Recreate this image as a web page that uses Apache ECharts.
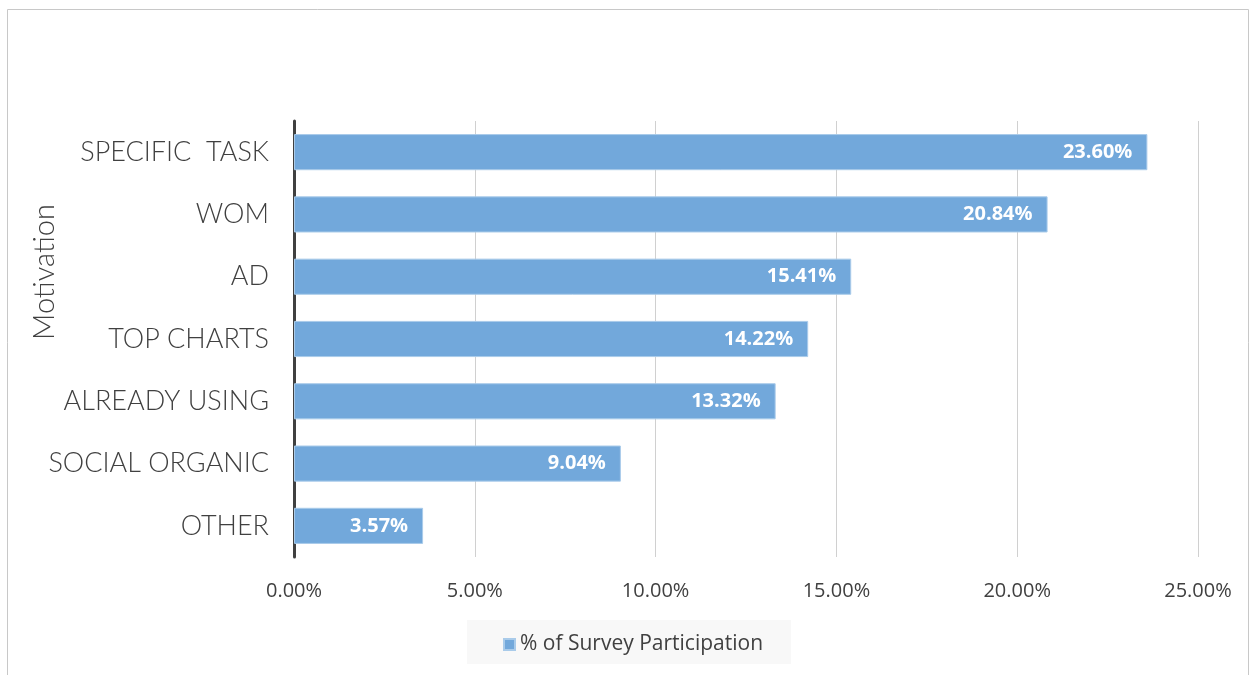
<!DOCTYPE html>
<html><head><meta charset="utf-8">
<script src="https://cdn.jsdelivr.net/npm/echarts@6/dist/echarts.min.js"></script>
<style>html,body{margin:0;padding:0;background:#fff}#c{width:1250px;height:675px}</style>
</head><body><div id="c"></div>
<script>
const categories = ['OTHER','SOCIAL ORGANIC','ALREADY USING','TOP CHARTS','AD','WOM','SPECIFIC  TASK'];
const values = [3.57, 9.04, 13.32, 14.22, 15.41, 20.84, 23.60];
const seriesName = '% of Survey Participation';
const axisTitle = 'Motivation';

const chart = echarts.init(document.getElementById('c'));
chart.setOption({
  animation: false,
  backgroundColor: '#fff',
  graphic: [
    {type:'rect', shape:{x:7.5,y:9.5,width:1241,height:700}, style:{fill:'none',stroke:'#c8c8c8',lineWidth:1}, z:-1},
    {type:'rect', shape:{x:467,y:620,width:324,height:44}, style:{fill:'#f8f8f8'}, z:-1},
    {type:'text', x:45, y:272, rotation:Math.PI/2,
      style:{text:axisTitle, fontFamily:'Lato', fontWeight:300, fontSize:29, fill:'#404040', align:'center', verticalAlign:'middle'}}
  ],
  grid: {left:294, right:52, top:121, bottom:118},
  legend: {
    data:[seriesName], bottom: 20, left: 503, padding: 0,
    itemWidth:11, itemHeight:11, itemGap:6,
    icon:'rect',
    textStyle:{fontFamily:'Open Sans', fontSize:21, color:'#404040'}
  },
  xAxis: {
    type:'value', min:0, max:25, interval:5,
    axisLine:{show:false}, axisTick:{show:false},
    splitLine:{lineStyle:{color:'#d0d0d0', width:1}},
    axisLabel:{formatter: v => v.toFixed(2)+'%', fontFamily:'Open Sans', fontSize:20, color:'#404040', margin:24}
  },
  yAxis: {
    type:'category', data:categories,
    axisLine:{lineStyle:{color:'#404040', width:3}},
    axisTick:{show:false},
    axisLabel:{fontFamily:'Lato', fontWeight:300, fontSize:27, color:'#404040', margin:25}
  },
  series: [{
    name: seriesName, type:'bar', data: values, barWidth:'58%',
    itemStyle:{color:'#72a8db', borderColor:'#a9cbea', borderWidth:1},
    label:{show:true, position:'insideRight', distance:15, formatter: p => p.value.toFixed(2)+'%',
      fontFamily:'Open Sans', fontWeight:'bold', fontSize:20, color:'#fff'}
  }]
});
</script></body></html>
